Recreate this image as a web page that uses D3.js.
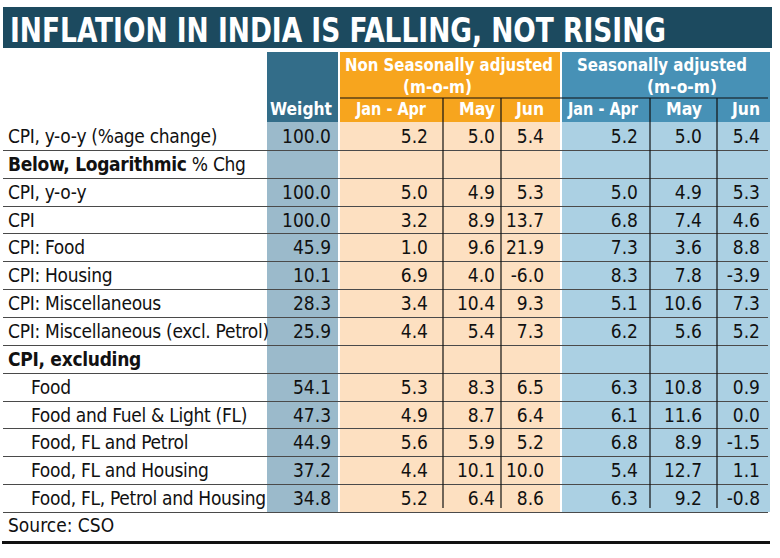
<!DOCTYPE html>
<html>
<head>
<meta charset="utf-8">
<script src="https://cdn.jsdelivr.net/npm/d3@7"></script>
<style>
  body { margin: 0; background: #fff; }
  svg { display: block; }
  text { font-family: "DejaVu Sans Condensed", "Liberation Sans Narrow", sans-serif; }
</style>
</head>
<body>
<div id="viz"></div>
<script>
// table data
var labels = ['CPI, y-o-y (%age change)', 'Below, Logarithmic', 'CPI, y-o-y', 'CPI', 'CPI: Food',
  'CPI: Housing', 'CPI: Miscellaneous', 'CPI: Miscellaneous (excl. Petrol)', 'CPI, excluding',
  'Food', 'Food and Fuel & Light (FL)', 'Food, FL and Petrol', 'Food, FL and Housing',
  'Food, FL, Petrol and Housing']
var boldRows = [1, 8]
var indentRows = [9, 10, 11, 12, 13]
var weights = [100.0, null, 100.0, 100.0, 45.9, 10.1, 28.3, 25.9, null, 54.1, 47.3, 44.9, 37.2, 34.8]
var nsaJanApr = [5.2, null, 5.0, 3.2, 1.0, 6.9, 3.4, 4.4, null, 5.3, 4.9, 5.6, 4.4, 5.2]
var nsaMay = [5.0, null, 4.9, 8.9, 9.6, 4.0, 10.4, 5.4, null, 8.3, 8.7, 5.9, 10.1, 6.4]
var nsaJun = [5.4, null, 5.3, 13.7, 21.9, -6.0, 9.3, 7.3, null, 6.5, 6.4, 5.2, 10.0, 8.6]
var saJanApr = [5.2, null, 5.0, 6.8, 7.3, 8.3, 5.1, 6.2, null, 6.3, 6.1, 6.8, 5.4, 6.3]
var saMay = [5.0, null, 4.9, 7.4, 3.6, 7.8, 10.6, 5.6, null, 10.8, 11.6, 8.9, 12.7, 9.2]
var saJun = [5.4, null, 5.3, 4.6, 8.8, -3.9, 7.3, 5.2, null, 0.9, 0.0, -1.5, 1.1, -0.8]
var subHeads = ['Jan - Apr', 'May', 'Jun']

const w = 780, h = 558

var svg = d3.select('#viz').append('svg')
  .attr('width', w).attr('height', h)

// title bar
svg.append('rect').attr('x', 3).attr('y', 7).attr('width', 769).attr('height', 41).attr('fill', '#1c4a5f')
svg.append('text').attr('x', 10).attr('y', 42)
  .attr('fill', '#fff').attr('font-size', 33).attr('font-weight', 'bold')
  .attr('textLength', 656).attr('lengthAdjust', 'spacingAndGlyphs')
  .text('INFLATION IN INDIA IS FALLING, NOT RISING')

// row scale
var y = d3.scaleBand().domain(d3.range(labels.length)).range([122, 512])
var baseY = i => y(i) + y.bandwidth() / 2 + 7

// columns: left, right, text right edge
var cols = [
  {key: 'w', x0: 267, x1: 338, tx: 331, data: weights, bg: '#9bbacb'},
  {key: 'n1', x0: 340, x1: 443, tx: 428, data: nsaJanApr, bg: '#fde0c1'},
  {key: 'n2', x0: 443, x1: 501, tx: 495, data: nsaMay, bg: '#fde0c1'},
  {key: 'n3', x0: 501, x1: 560, tx: 544, data: nsaJun, bg: '#fde0c1'},
  {key: 's1', x0: 562, x1: 650, tx: 638, data: saJanApr, bg: '#abd0e3'},
  {key: 's2', x0: 650, x1: 717, tx: 702, data: saMay, bg: '#abd0e3'},
  {key: 's3', x0: 717, x1: 770, tx: 760, data: saJun, bg: '#abd0e3'}
]

// header blocks
svg.append('rect').attr('x', 267).attr('y', 52).attr('width', 71).attr('height', 70).attr('fill', '#336d89')
svg.append('rect').attr('x', 340).attr('y', 52).attr('width', 220).attr('height', 70).attr('fill', '#f7a51e')
svg.append('rect').attr('x', 562).attr('y', 52).attr('width', 208).attr('height', 70).attr('fill', '#4791b6')

var head = svg.append('g').attr('fill', '#fff').attr('font-weight', 'bold').attr('font-size', 18)

// [text, x, y, width]
var headTexts = [
  ['Weight', 270, 115, 62],
  ['Non Seasonally adjusted', 345, 71, 208],
  ['(m-o-m)', 403, 93, 69],
  ['Seasonally adjusted', 577, 71, 170],
  ['(m-o-m)', 647, 93, 70]
]
head.selectAll('text.h')
  .data(headTexts)
  .enter()
  .append('text')
  .attr('class', 'h')
  .attr('x', d => d[1]).attr('y', d => d[2])
  .attr('textLength', d => d[3]).attr('lengthAdjust', 'spacingAndGlyphs')
  .text(d => d[0])

// body backgrounds
svg.selectAll('rect.col')
  .data(cols)
  .enter()
  .append('rect')
  .attr('class', 'col')
  .attr('x', d => d.x0)
  .attr('y', 122)
  .attr('width', d => d.x1 - d.x0)
  .attr('height', 390)
  .attr('fill', d => d.bg)

// sub headers, right aligned over the values
var subW = [70, 36, 28]
head.selectAll('text.sub')
  .data(cols.slice(1))
  .enter()
  .append('text')
  .attr('class', 'sub')
  .attr('x', (d, i) => d.tx - subW[i % 3] + (i == 0 ? -2 : 0))
  .attr('y', 115)
  .attr('textLength', (d, i) => subW[i % 3]).attr('lengthAdjust', 'spacingAndGlyphs')
  .text((d, i) => subHeads[i % 3])

// row lines
svg.selectAll('line.row')
  .data(d3.range(1, labels.length))
  .enter()
  .append('line')
  .attr('class', 'row')
  .attr('x1', 3).attr('x2', 768)
  .attr('y1', d => Math.round(y(d)) + 0.5)
  .attr('y2', d => Math.round(y(d)) + 0.5)
  .attr('stroke', '#4a4a4a').attr('stroke-width', 1)
svg.append('line').attr('x1', 3).attr('x2', 768).attr('y1', 512.5).attr('y2', 512.5)
  .attr('stroke', '#4a4a4a').attr('stroke-width', 1)

// header underline
svg.append('line').attr('x1', 340).attr('x2', 768).attr('y1', 98).attr('y2', 98)
  .attr('stroke', '#111').attr('stroke-width', 1.2)

// dividers
svg.selectAll('line.div')
  .data([443, 501, 650, 717])
  .enter()
  .append('line')
  .attr('class', 'div')
  .attr('x1', d => d).attr('x2', d => d)
  .attr('y1', 98).attr('y2', 508)
  .attr('stroke', '#111').attr('stroke-width', 1.2)

// labels
var lab = svg.append('g').attr('fill', '#111').attr('font-size', 19)
lab.selectAll('text.lab')
  .data(labels)
  .enter()
  .append('text')
  .attr('class', 'lab')
  .attr('x', (d, i) => indentRows.includes(i) ? 31 : 8)
  .attr('y', (d, i) => baseY(i))
  .attr('letter-spacing', -0.3)
  .attr('font-weight', (d, i) => boldRows.includes(i) ? 'bold' : 'normal')
  .text(d => d)
  .filter((d, i) => i == 1)
  .append('tspan')
  .attr('font-weight', 'normal')
  .text(' % Chg')

// values
cols.forEach(function(c) {
  var vals = c.data.map((v, i) => ({v: v, i: i})).filter(d => d.v != null)
  lab.selectAll('text.v' + c.key)
    .data(vals)
    .enter()
    .append('text')
    .attr('class', 'v' + c.key)
    .attr('x', c.tx)
    .attr('y', d => baseY(d.i))
    .attr('text-anchor', 'end')
    .text(d => d.v.toFixed(1))
})

// source + bottom rule
lab.append('text').attr('x', 8).attr('y', 532).text('Source: CSO')
svg.append('rect').attr('x', 2).attr('y', 541).attr('width', 768).attr('height', 3).attr('fill', '#111')
</script>
</body>
</html>
